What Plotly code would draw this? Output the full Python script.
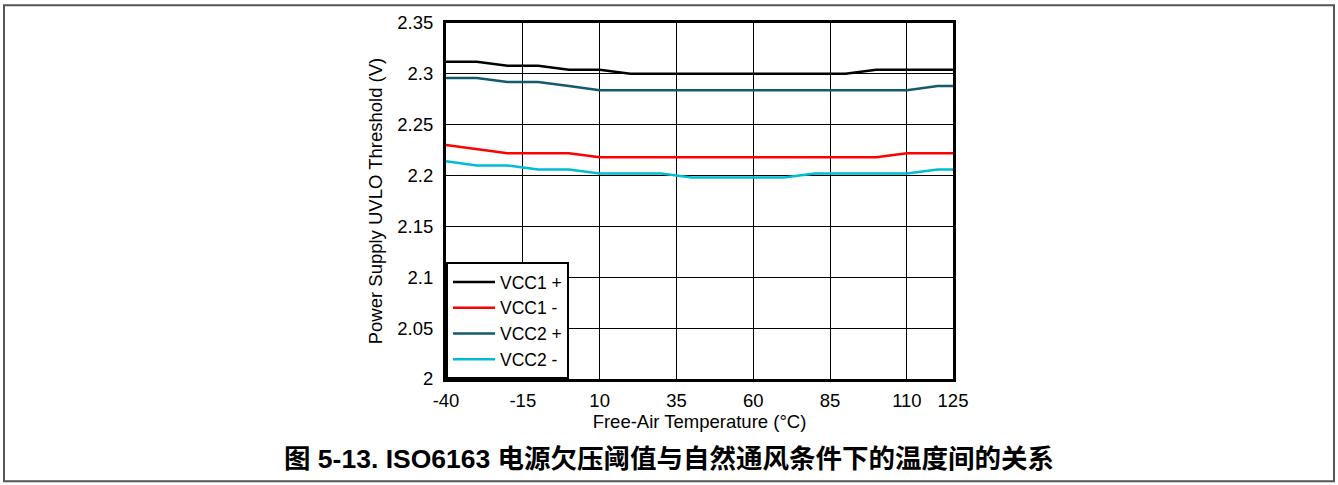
import plotly.graph_objects as go

temps = [-40, -30, -20, -10, 0, 10, 20, 30, 40, 50, 60, 70, 80, 90, 100, 110, 120, 125]
vcc1_plus = [2.312, 2.312, 2.308, 2.308, 2.304, 2.304, 2.300, 2.300, 2.300, 2.300, 2.300, 2.300, 2.300, 2.300, 2.304, 2.304, 2.304, 2.304]
vcc1_minus = [2.230, 2.226, 2.222, 2.222, 2.222, 2.218, 2.218, 2.218, 2.218, 2.218, 2.218, 2.218, 2.218, 2.218, 2.218, 2.222, 2.222, 2.222]
vcc2_plus = [2.296, 2.296, 2.292, 2.292, 2.288, 2.284, 2.284, 2.284, 2.284, 2.284, 2.284, 2.284, 2.284, 2.284, 2.284, 2.284, 2.288, 2.288]
vcc2_minus = [2.214, 2.210, 2.210, 2.206, 2.206, 2.202, 2.202, 2.202, 2.198, 2.198, 2.198, 2.198, 2.202, 2.202, 2.202, 2.202, 2.206, 2.206]

series_names = ["VCC1 +", "VCC1 -", "VCC2 +", "VCC2 -"]
series_colors = ["#000000", "#ff0000", "#135a6e", "#00bcd4"]

x_ticks = [-40, -15, 10, 35, 60, 85, 110, 125]
y_ticks = [2, 2.05, 2.1, 2.15, 2.2, 2.25, 2.3, 2.35]

title_text = "图 5-13. ISO6163 电源欠压阈值与自然通风条件下的温度间的关系"
x_title = "Free-Air Temperature (°C)"
y_title = "Power Supply UVLO Threshold (V)"

W, H = 1338, 485
ml, mr, mt, mb = 446, 385, 20, 106
pw, ph = W - ml - mr, H - mt - mb

fig = go.Figure()
for name, color, vals in zip(series_names, series_colors, [vcc1_plus, vcc1_minus, vcc2_plus, vcc2_minus]):
    fig.add_trace(go.Scatter(x=temps, y=vals, mode="lines", name=name,
                             line=dict(color=color, width=2.5)))

FONT = "Liberation Sans, Arial, sans-serif"
axis_font = dict(family=FONT, size=18.5, color="#000")

fig.update_layout(
    width=W, height=H,
    margin=dict(l=ml, r=mr, t=mt, b=mb),
    paper_bgcolor="white", plot_bgcolor="white",
    font=axis_font,
    showlegend=True,
    legend=dict(x=0, y=0, xanchor="left", yanchor="bottom",
                bgcolor="white", bordercolor="black", borderwidth=2,
                font=dict(family=FONT, size=17.5, color="#000"),
                tracegroupgap=0, itemwidth=42, entrywidth=88),
    xaxis=dict(range=[-40, 125], tickvals=x_ticks, ticktext=[str(v) for v in x_ticks],
               showgrid=True, gridcolor="#000", gridwidth=1,
               showline=True, linecolor="#000", linewidth=3, mirror=True,
               ticks="", zeroline=False, ticklabelstandoff=3,
               title=dict(text=x_title, font=axis_font, standoff=0),
               tickfont=axis_font),
    yaxis=dict(range=[2, 2.35], tickvals=y_ticks,
               showgrid=True, gridcolor="#000", gridwidth=1,
               showline=True, linecolor="#000", linewidth=3, mirror=True,
               ticks="", zeroline=False, ticklabelstandoff=6,
               title=dict(text=y_title, font=axis_font, standoff=10),
               tickfont=axis_font),
)

# Title below chart
fig.add_annotation(
    text="<b>" + title_text + "</b>",
    xref="paper", yref="paper",
    x=(W / 2 - ml) / pw, y=-(460 - mt - ph) / ph,
    xanchor="center", yanchor="middle", showarrow=False,
    font=dict(family="Liberation Sans, Noto Sans CJK SC, sans-serif", size=26.5, color="#000"),
)

# Outer frame
def px_to_paper_x(px):
    return (px - ml) / pw

def px_to_paper_y(py):
    return (H - mb - py) / ph

fig.add_shape(type="rect", xref="paper", yref="paper",
              x0=px_to_paper_x(4), x1=px_to_paper_x(1334),
              y0=px_to_paper_y(482), y1=px_to_paper_y(2),
              line=dict(color="#555", width=2), fillcolor="rgba(0,0,0,0)", layer="below")

fig.write_html("out.html")
